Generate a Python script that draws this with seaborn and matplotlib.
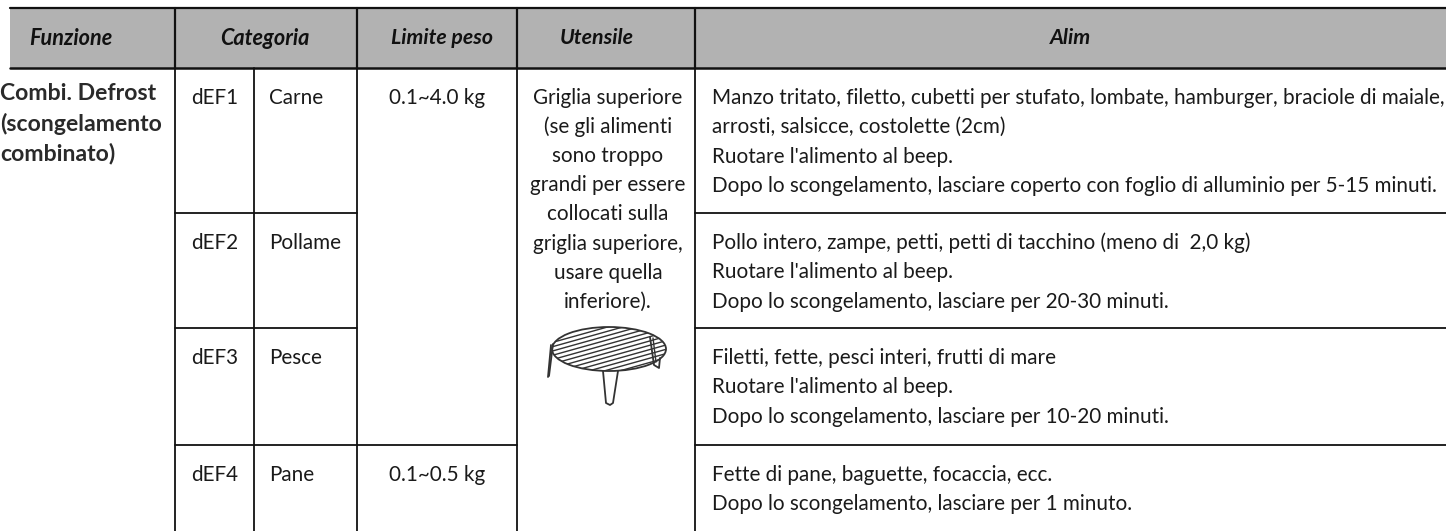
import numpy as np
import pandas as pd
import matplotlib
matplotlib.use('Agg')
import matplotlib.pyplot as plt
from matplotlib.patches import Ellipse
import seaborn as sns

header_labels = ['Funzione', 'Categoria', 'Limite peso', 'Utensile', 'Alim']
codes = ['dEF1', 'dEF2', 'dEF3', 'dEF4']
categories = ['Carne', 'Pollame', 'Pesce', 'Pane']
weights = ['0.1~4.0 kg', '0.1~0.5 kg']
function_lines = ['Combi. Defrost', '(scongelamento', 'combinato)']
tool_lines = ['Griglia superiore', '(se gli alimenti', 'sono troppo', 'grandi per essere',
              'collocati sulla', 'griglia superiore,', 'usare quella', 'inferiore).']
food_lines = [
    ['Manzo tritato, filetto, cubetti per stufato, lombate, hamburger, braciole di maiale,',
     'arrosti, salsicce, costolette (2cm)',
     "Ruotare l'alimento al beep.",
     'Dopo lo scongelamento, lasciare coperto con foglio di alluminio per 5-15 minuti.'],
    ['Pollo intero, zampe, petti, petti di tacchino (meno di  2,0 kg)',
     "Ruotare l'alimento al beep.",
     'Dopo lo scongelamento, lasciare per 20-30 minuti.'],
    ['Filetti, fette, pesci interi, frutti di mare',
     "Ruotare l'alimento al beep.",
     'Dopo lo scongelamento, lasciare per 10-20 minuti.'],
    ['Fette di pane, baguette, focaccia, ecc.',
     'Dopo lo scongelamento, lasciare per 1 minuto.'],
]

sns.set_theme(style='white')
plt.rcParams['font.family'] = ['Lato', 'DejaVu Sans']

W, H = 1446, 531
fig = plt.figure(figsize=(W / 100, H / 100), dpi=100)
ax = fig.add_axes([0, 0, 1, 1])
ax.set_xlim(0, W)
ax.set_ylim(H, 0)
ax.axis('off')

# table layout in pixels
cols = [10, 174.7, 254, 356.5, 517, 695, W]
head_top, head_bot = 8, 68
rows = [68, 213, 328, 445, 531]
pad = 30
line_h = 29.3
fs = 14.85
ink = '#1a1a1a'


def rule(xs, ys, lw=1.3, color='#111111', **kw):
    return sns.lineplot(x=xs, y=ys, color=color, linewidth=lw, estimator=None, sort=False, ax=ax, legend=False, **kw)


# header band
ax.fill_between([cols[0], W], head_top, head_bot, color='#b2b2b2', lw=0)
rule([cols[0], W], [head_top, head_top], 1.6)
rule([cols[0], W], [head_bot, head_bot], 1.8)
for x in [cols[1], cols[3], cols[4], cols[5]]:
    rule([x, x], [head_top, head_bot], 1.6)
header_x = [71, 265, 442, 597, 1070]
for x, s, f in zip(header_x, header_labels, [15.6, 15.6, 15.3, 15.4, 15.4]):
    ax.text(x, 38.5, s, ha='center', va='center', fontsize=f, fontweight='bold', style='italic', color='#111111')

# body verticals
for x in cols[1:6]:
    rule([x, x], [head_bot, H])

# row rules, the weight and tool columns span rows
rule([cols[1], cols[3]], [rows[1], rows[1]])
rule([cols[1], cols[3]], [rows[2], rows[2]])
rule([cols[1], cols[4]], [rows[3], rows[3]])
for y in rows[1:4]:
    rule([cols[5], W], [y, y])

# first column
for i, s in enumerate(function_lines):
    ax.text(0, 94 + i * 30, s, va='center', ha='left', fontsize=16.6, fontweight='bold', color='#2a2a2a')

# code and category
for i in range(4):
    y = rows[i] + pad
    ax.text((cols[1] + cols[2]) / 2, y, codes[i], ha='center', va='center', fontsize=fs, color=ink)
    ax.text(cols[2] + 15.5, y, categories[i], ha='left', va='center', fontsize=fs, color=ink)

ax.text((cols[3] + cols[4]) / 2, rows[0] + pad, weights[0], ha='center', va='center', fontsize=fs, color=ink)
ax.text((cols[3] + cols[4]) / 2, rows[3] + pad, weights[1], ha='center', va='center', fontsize=fs, color=ink)

# tool column
for i, s in enumerate(tool_lines):
    ax.text((cols[4] + cols[5]) / 2 + 2, 98 + i * 29.1, s, ha='center', va='center', fontsize=fs, color=ink)

# food column
for block, top in zip(food_lines, rows):
    for i, s in enumerate(block):
        ax.text(712, top + pad + i * line_h, s, ha='left', va='center', fontsize=fs, color=ink)

# rack drawing
rack = Ellipse((609, 349), 114, 44, fill=False, edgecolor='#333333', lw=1.3)
ax.add_patch(rack)
for off in np.arange(-22, 34, 4.3):
    ln = ax.plot([545, 670], [349 + off + 17.5, 349 + off - 17.5], color='#333333', lw=1.0)[0]
    ln.set_clip_path(rack)
leg_color = '#333333'
rule([553, 549], [344, 376], 1.3, leg_color)
rule([551, 548], [345, 377], 1.3, leg_color)
rule([603, 606, 610, 613, 618], [371, 403, 405, 403, 371], 1.3, leg_color)
rule([650, 654, 659, 660], [337, 365, 368, 358], 1.3, leg_color)
rule([653, 656], [338, 362], 1.0, leg_color)

fig.savefig('out.png', dpi=100)
